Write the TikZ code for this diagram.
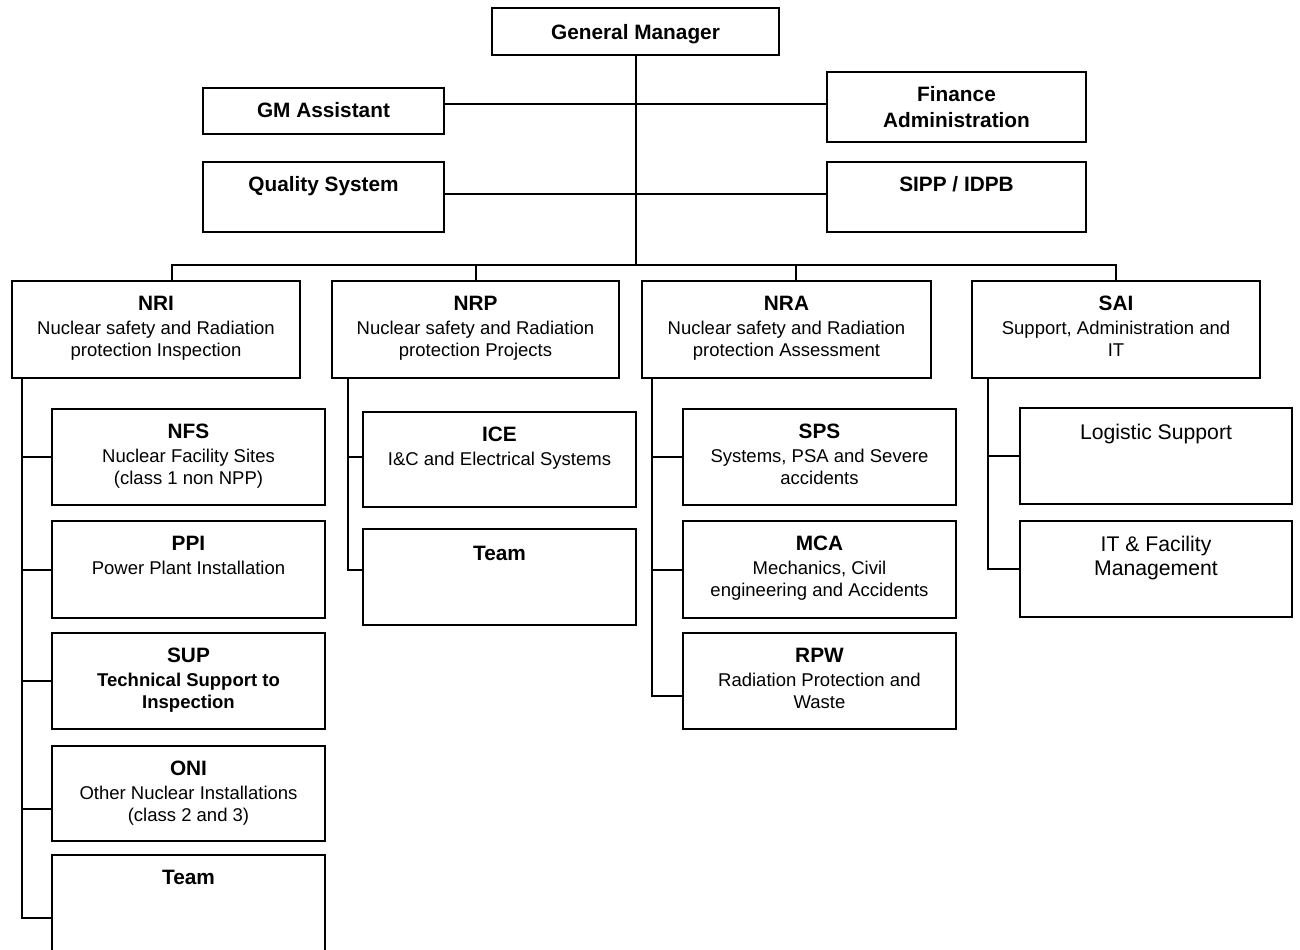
\documentclass[tikz,border=0pt]{standalone}
\usepackage{fontspec}
\setmainfont{Liberation Sans}
\usetikzlibrary{fit}
\tikzset{
  orgbox/.style={draw, line width=1pt, inner sep=0pt, rectangle},
  conn/.style={line width=1pt},
  boxtext/.style={anchor=north, align=center, inner sep=0pt, font=\fontsize{9.25}{10.75}\selectfont},
}
\newcommand\ttl[1]{{\fontsize{10.4}{10.75}\selectfont\bfseries #1}}
\newcommand\orgunit[7]{%
  \node[orgbox, fit={(#2,#3) (#4,#5)}] (#1) {};
  \node[boxtext, #6] (#1-t) at ([yshift=-7.75pt]#1.north) {#7};}
\begin{document}
\begin{tikzpicture}[x=0.5pt, y=-0.5pt]
\useasboundingbox (0,0) rectangle (1300,949);
\fill[white] (0,0) rectangle (1300,949);
\clip (0,0) rectangle (1300,949);

% top level
\orgunit{gm}{492}{8}{779}{55}{yshift=-0.75pt}{\ttl{General Manager}}
\orgunit{gma}{203}{88}{444}{134}{}{\ttl{GM Assistant}}
\orgunit{fin}{827}{72}{1086}{142}{font=\fontsize{10.4}{12.75}\selectfont\bfseries}{Finance\\Administration}
\orgunit{qs}{203}{162}{444}{232}{}{\ttl{Quality System}}
\orgunit{sipp}{827}{162}{1086}{232}{}{\ttl{SIPP / IDPB}}

% divisions
\orgunit{nri}{12}{281}{300}{378}{}{\ttl{NRI}\\[1.5pt]Nuclear safety and Radiation\\protection Inspection}
\orgunit{nrp}{332}{281}{619}{378}{}{\ttl{NRP}\\[1.5pt]Nuclear safety and Radiation\\protection Projects}
\orgunit{nra}{642}{281}{931}{378}{}{\ttl{NRA}\\[1.5pt]Nuclear safety and Radiation\\protection Assessment}
\orgunit{sai}{972}{281}{1260}{378}{}{\ttl{SAI}\\[1.5pt]Support, Administration and\\IT}

% NRI units
\orgunit{nfs}{52}{409}{325}{505}{}{\ttl{NFS}\\[1.5pt]Nuclear Facility Sites\\(class 1 non NPP)}
\orgunit{ppi}{52}{521}{325}{618}{}{\ttl{PPI}\\[1.5pt]Power Plant Installation}
\orgunit{sup}{52}{633}{325}{729}{}{\ttl{SUP}\\[1.5pt]\textbf{Technical Support to}\\\textbf{Inspection}}
\orgunit{oni}{52}{746}{325}{841}{}{\ttl{ONI}\\[1.5pt]Other Nuclear Installations\\(class 2 and 3)}
\orgunit{nriteam}{52}{855}{325}{981}{}{\ttl{Team}}

% NRP units
\orgunit{ice}{363}{412}{636}{507}{}{\ttl{ICE}\\[1.5pt]I\&C and Electrical Systems}
\orgunit{nrpteam}{363}{529}{636}{625}{yshift=-1pt}{\ttl{Team}}

% NRA units
\orgunit{sps}{683}{409}{956}{505}{}{\ttl{SPS}\\[1.5pt]Systems, PSA and Severe\\accidents}
\orgunit{mca}{683}{521}{956}{618}{}{\ttl{MCA}\\[1.5pt]Mechanics, Civil\\engineering and Accidents}
\orgunit{rpw}{683}{633}{956}{729}{}{\ttl{RPW}\\[1.5pt]Radiation Protection and\\Waste}

% SAI units
\orgunit{logs}{1020}{408}{1292}{504}{font=\fontsize{10.6}{12}\selectfont, yshift=-0.75pt}{Logistic Support}
\orgunit{itfm}{1020}{521}{1292}{617}{font=\fontsize{10.6}{12}\selectfont}{IT \& Facility\\Management}

% connectors, top
\coordinate (r1) at (636,104);
\coordinate (r2) at (636,194);
\coordinate (busL) at (172,265);
\coordinate (busR) at (1116,265);
\coordinate (nrastub) at (796,265);
\draw[conn] (gm.south) -- (gm.south |- busL);
\draw[conn] (gma.east |- r1) -- (fin.west |- r1);
\draw[conn] (qs.east |- r2) -- (sipp.west |- r2);
\draw[conn] (busL |- nri.north) -- (busL) -- (busR) -- (sai.north);
\draw[conn] (nrp.north) -- (nrp.north |- busL);
\draw[conn] (nrastub) -- (nrastub |- nra.north);

% columns
\coordinate (c1) at (22,0);
\coordinate (c2) at (348,0);
\coordinate (c3) at (652,0);
\coordinate (c4) at (988,0);

\draw[conn] (c1 |- nri.south) |- (nriteam.west);
\foreach \n in {nfs,ppi,sup} \draw[conn] (c1 |- \n.west) -- (\n.west);
\coordinate (onic) at ([yshift=-7.75pt]oni.west);
\draw[conn] (c1 |- onic) -- (onic);

\coordinate (icec) at ([yshift=1.25pt]ice.west);
\coordinate (ntc) at ([yshift=3.5pt]nrpteam.west);
\draw[conn] (c2 |- nrp.south) |- (ntc);
\draw[conn] (c2 |- icec) -- (icec);

\coordinate (rpwc) at ([yshift=-7.5pt]rpw.west);
\draw[conn] (c3 |- nra.south) |- (rpwc);
\foreach \n in {sps,mca} \draw[conn] (c3 |- \n.west) -- (\n.west);

\draw[conn] (c4 |- sai.south) |- (itfm.west);
\draw[conn] (c4 |- logs.west) -- (logs.west);
\end{tikzpicture}
\end{document}
